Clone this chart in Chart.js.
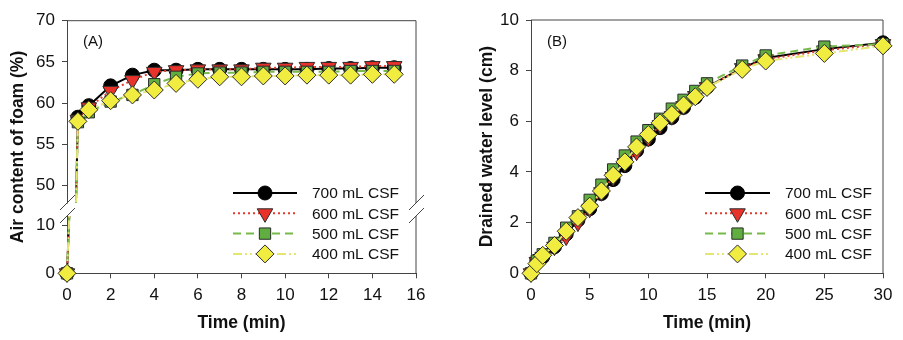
<!DOCTYPE html>
<html>
<head>
<meta charset="utf-8">
<script src="https://cdn.jsdelivr.net/npm/chart.js@4.4.1/dist/chart.umd.min.js"></script>
<style>
  html, body { margin: 0; padding: 0; background: #fff; }
  .panel { position: absolute; top: 0; height: 340px; }
  #panelA { left: 0; width: 450px; }
  #panelB { left: 450px; width: 453px; }
</style>
</head>
<body>
<div class="panel" id="panelA"><canvas id="chartA" width="450" height="340"></canvas></div>
<div class="panel" id="panelB"><canvas id="chartB" width="453" height="340"></canvas></div>
<script>
const seriesLabels = ["700 mL CSF", "600 mL CSF", "500 mL CSF", "400 mL CSF"];

// (A) air content of foam vs time
const timeA = [0, 0.5, 1, 2, 3, 4, 5, 6, 7, 8, 9, 10, 11, 12, 13, 14, 15];
const air700 = [0, 58.3, 59.7, 62.1, 63.4, 64.0, 64.0, 64.1, 64.1, 64.1, 64.1, 64.1, 64.1, 64.2, 64.2, 64.3, 64.3];
const air600 = [0, 58.0, 59.5, 61.5, 62.8, 63.8, 64.0, 64.1, 64.1, 64.1, 64.3, 64.3, 64.4, 64.4, 64.4, 64.5, 64.5];
const air500 = [0, 57.7, 58.9, 60.2, 61.0, 62.3, 63.2, 63.6, 63.7, 63.7, 63.8, 63.8, 63.8, 63.8, 63.9, 63.9, 63.9];
const air400 = [0, 57.8, 59.2, 60.3, 61.0, 61.6, 62.4, 62.9, 63.2, 63.2, 63.3, 63.3, 63.4, 63.4, 63.4, 63.5, 63.5];

// (B) drained water level vs time
const timeB = [0, 0.5, 1, 2, 3, 4, 5, 6, 7, 8, 9, 10, 11, 12, 13, 14, 15, 18, 20, 25, 30];
const drain700 = [0, 0.5, 0.65, 1.05, 1.55, 2.1, 2.55, 3.15, 3.7, 4.25, 4.85, 5.3, 5.75, 6.15, 6.55, 6.95, 7.35, 8.1, 8.5, 8.85, 9.1];
const drain600 = [0, 0.45, 0.65, 1.05, 1.45, 2.0, 2.55, 3.2, 3.8, 4.35, 4.8, 5.35, 5.85, 6.2, 6.6, 7.0, 7.35, 8.1, 8.45, 8.8, 9.05];
const drain500 = [0, 0.5, 0.75, 1.2, 1.8, 2.25, 2.9, 3.5, 4.1, 4.65, 5.2, 5.65, 6.1, 6.5, 6.85, 7.2, 7.5, 8.2, 8.6, 8.95, 9.05];
const drain400 = [0, 0.38, 0.71, 1.1, 1.66, 2.2, 2.65, 3.25, 3.87, 4.4, 4.99, 5.48, 5.94, 6.27, 6.64, 6.97, 7.34, 8.05, 8.38, 8.68, 8.98];

// tick labels
const ticksAx = [0, 2, 4, 6, 8, 10, 12, 14, 16];
const ticksAUpper = [50, 55, 60, 65, 70];
const ticksALower = [0, 10];
const ticksBx = [0, 5, 10, 15, 20, 25, 30];
const ticksBy = [0, 2, 4, 6, 8, 10];

const fontFamily = "'Liberation Sans', Arial, sans-serif";
const textColor = "#111";
const axisColor = "#444";
const markerEdge = "#2b2b2b";
const breakGap = 13;

const seriesStyles = [
  { line: "#000000", fill: "#000000", width: 2, dash: [], point: "circle", radius: 7, rotation: 0 },
  { line: "#e6392e", fill: "#e8322a", width: 2, dash: [2, 3], point: "triangle", radius: 9, rotation: 180 },
  { line: "#78b94c", fill: "#60ae40", width: 2, dash: [8, 5], point: "rect", radius: 8, rotation: 0 },
  { line: "#e4e672", fill: "#f1ec40", width: 2, dash: [9, 3, 2, 3, 2, 3], point: "rectRot", radius: 9, rotation: 0 },
];

Chart.defaults.font.family = fontFamily;
Chart.defaults.color = textColor;

function makeDataset(i, xs, ys, yAxisID) {
  const s = seriesStyles[i];
  return {
    label: seriesLabels[i],
    data: xs.map((x, k) => ({ x: x, y: ys[k] })),
    yAxisID: yAxisID,
    borderColor: s.line,
    borderWidth: s.width,
    borderDash: s.dash,
    pointStyle: s.point,
    pointRadius: s.radius,
    pointHoverRadius: s.radius,
    pointRotation: s.rotation,
    pointBackgroundColor: s.fill,
    pointBorderColor: i === 0 ? "#000" : markerEdge,
    pointBorderWidth: 1,
    tension: 0,
    clip: false,
    order: 3 - i,
  };
}

function axisStyle(tickValues, fitFn) {
  return {
    type: "linear",
    afterBuildTicks: (scale) => { scale.ticks = tickValues.map((v) => ({ value: v })); },
    afterFit: fitFn,
    grid: { drawOnChartArea: false, drawTicks: true, tickLength: 5, color: axisColor, lineWidth: 1 },
    border: { display: true, color: axisColor, width: 1 },
    ticks: { color: textColor, font: { size: 17 }, padding: 7 },
  };
}

function drawMarker(ctx, s, x, y) {
  const r = s.radius;
  ctx.beginPath();
  if (s.point === "circle") {
    ctx.arc(x, y, r, 0, Math.PI * 2);
  } else if (s.point === "triangle") {
    const h = r * Math.sin(Math.PI / 3);
    ctx.moveTo(x, y + r);
    ctx.lineTo(x - h, y - r / 2);
    ctx.lineTo(x + h, y - r / 2);
    ctx.closePath();
  } else if (s.point === "rect") {
    const h = r * Math.SQRT1_2;
    ctx.rect(x - h, y - h, 2 * h, 2 * h);
  } else {
    ctx.moveTo(x, y - r);
    ctx.lineTo(x + r, y);
    ctx.lineTo(x, y + r);
    ctx.lineTo(x - r, y);
    ctx.closePath();
  }
  ctx.fillStyle = s.fill;
  ctx.fill();
  ctx.lineWidth = 1;
  ctx.strokeStyle = s.point === "circle" ? "#000" : markerEdge;
  ctx.stroke();
}

// legend, axis titles and the (A)/(B) tag
function annotations(opts) {
  return {
    id: "annotations",
    afterDraw(chart) {
      const ctx = chart.ctx;
      const a = chart.chartArea;
      ctx.save();
      ctx.fillStyle = textColor;

      ctx.font = "15px " + fontFamily;
      ctx.textAlign = "left";
      ctx.textBaseline = "middle";
      ctx.fillText(opts.tag, a.left + 16, 42);

      seriesStyles.forEach((s, i) => {
        const y = opts.legendTop + i * 20.3;
        ctx.strokeStyle = s.line;
        ctx.lineWidth = s.width;
        ctx.setLineDash(s.dash);
        ctx.beginPath();
        ctx.moveTo(opts.legendX0, y);
        ctx.lineTo(opts.legendX1, y);
        ctx.stroke();
        ctx.setLineDash([]);
        drawMarker(ctx, s, (opts.legendX0 + opts.legendX1) / 2, y);
        ctx.fillStyle = textColor;
        ctx.font = "15.5px " + fontFamily;
        ctx.textAlign = "left";
        ctx.fillText(seriesLabels[i], opts.legendText, y + 1);
      });

      ctx.font = "bold 17.5px " + fontFamily;
      ctx.textAlign = "center";
      ctx.fillText("Time (min)", (a.left + a.right) / 2, 323);
      ctx.translate(opts.yTitleX, (a.top + a.bottom) / 2);
      ctx.rotate(-Math.PI / 2);
      ctx.fillText(opts.yTitle, 0, 0);
      ctx.restore();
    },
  };
}

// top/right frame, plus the axis break on panel A
function frame(withBreak) {
  return {
    id: "frame",
    beforeDatasetsDraw(chart) {
      const ctx = chart.ctx;
      const a = chart.chartArea;
      ctx.save();
      ctx.strokeStyle = axisColor;
      ctx.lineWidth = 1;
      ctx.beginPath();
      ctx.moveTo(a.left, a.top);
      ctx.lineTo(a.right, a.top);
      if (withBreak) {
        const yb = chart.scales.yUpper.bottom;
        ctx.moveTo(a.right, a.top);
        ctx.lineTo(a.right, yb);
        ctx.moveTo(a.right, yb + breakGap);
        ctx.lineTo(a.right, a.bottom);
        ctx.stroke();
        ctx.fillStyle = "#fff";
        ctx.fillRect(a.left - 2, yb + 0.5, 4, breakGap - 1);
        ctx.beginPath();
        [a.left, a.right].forEach((x) => {
          ctx.moveTo(x - 7, yb + 7);
          ctx.lineTo(x + 8, yb - 8);
          ctx.moveTo(x - 7, yb + breakGap + 7);
          ctx.lineTo(x + 8, yb + breakGap - 8);
        });
      } else {
        ctx.moveTo(a.right, a.top);
        ctx.lineTo(a.right, a.bottom);
      }
      ctx.stroke();
      ctx.restore();
    },
  };
}

// each half of the broken axis only shows its own part of the lines
const segmentClip = {
  id: "segmentClip",
  beforeDatasetDraw(chart, args) {
    const ds = chart.data.datasets[args.index];
    const scale = chart.scales[ds.yAxisID];
    let top = scale.top - 12;
    let bottom = scale.bottom;
    if (ds.yAxisID === "yLower") {
      top = scale.top + breakGap;
      bottom = scale.bottom + 12;
    }
    const ctx = chart.ctx;
    ctx.save();
    ctx.beginPath();
    ctx.rect(0, top, chart.width, bottom - top);
    ctx.clip();
  },
  afterDatasetDraw(chart) {
    chart.ctx.restore();
  },
};

const airSeries = [air700, air600, air500, air400];
const datasetsA = [];
airSeries.forEach((ys, i) => {
  datasetsA.push(makeDataset(i, timeA, ys, "yUpper"));
  datasetsA.push(makeDataset(i, timeA, ys, "yLower"));
});

const yUpper = axisStyle(ticksAUpper, (s) => { s.width = 67; });
Object.assign(yUpper, { position: "left", stack: "air", stackWeight: 182.3, weight: 1, min: 47.9, max: 70 });
const yLower = axisStyle(ticksALower, (s) => { s.width = 67; });
Object.assign(yLower, { position: "left", stack: "air", stackWeight: 70.3, weight: 0, min: 0, max: 14.8 });
const xA = axisStyle(ticksAx, (s) => { s.height = 66.7; });
Object.assign(xA, { position: "bottom", min: 0, max: 16 });

new Chart(document.getElementById("chartA"), {
  type: "line",
  data: { datasets: datasetsA },
  options: {
    responsive: false,
    animation: false,
    devicePixelRatio: 1,
    layout: { padding: { top: 20.7, right: 34, left: 0, bottom: 0 } },
    scales: { x: xA, yUpper: yUpper, yLower: yLower },
    plugins: { legend: { display: false }, tooltip: { enabled: false } },
  },
  plugins: [segmentClip, frame(true), annotations({
    tag: "(A)", yTitle: "Air content of foam (%)", yTitleX: 18,
    legendTop: 193, legendX0: 233, legendX1: 297, legendText: 312,
  })],
});

const drainSeries = [drain700, drain600, drain500, drain400];
const datasetsB = drainSeries.map((ys, i) => makeDataset(i, timeB, ys, "y"));

const yB = axisStyle(ticksBy, (s) => { s.width = 81; });
Object.assign(yB, { position: "left", min: 0, max: 10 });
const xB = axisStyle(ticksBx, (s) => { s.height = 66.7; });
Object.assign(xB, { position: "bottom", min: 0, max: 30 });

new Chart(document.getElementById("chartB"), {
  type: "line",
  data: { datasets: datasetsB },
  options: {
    responsive: false,
    animation: false,
    devicePixelRatio: 1,
    layout: { padding: { top: 20, right: 20, left: 0, bottom: 0 } },
    scales: { x: xB, y: yB },
    plugins: { legend: { display: false }, tooltip: { enabled: false } },
  },
  plugins: [frame(false), annotations({
    tag: "(B)", yTitle: "Drained water level (cm)", yTitleX: 37,
    legendTop: 193, legendX0: 255, legendX1: 320, legendText: 335,
  })],
});
</script>
</body>
</html>
